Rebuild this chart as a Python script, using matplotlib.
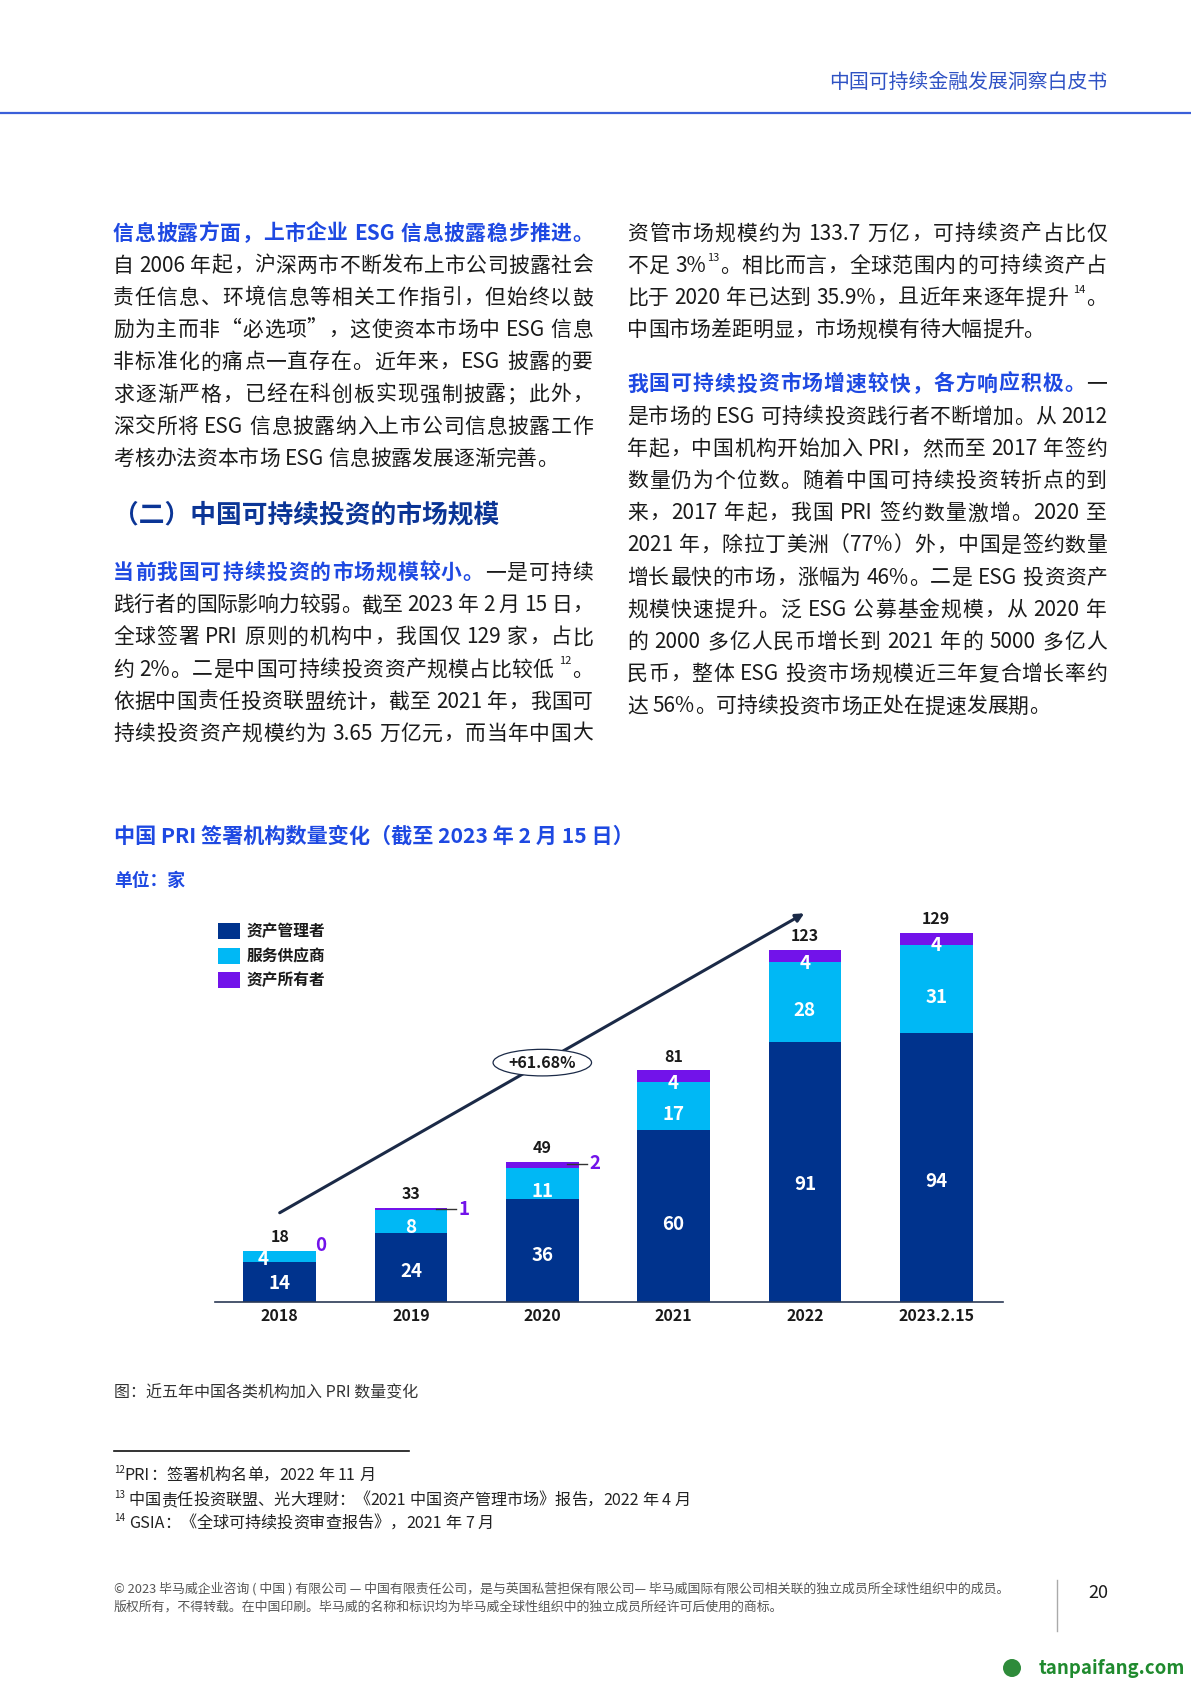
import re
import matplotlib
matplotlib.use("Agg")
import matplotlib.pyplot as plt
from matplotlib.patches import Ellipse, Rectangle
import numpy as np

plt.rcParams["font.family"] = ["Noto Sans CJK SC", "DejaVu Sans"]

# ---- chart data -------------------------------------------------------
years = ["2018", "2019", "2020", "2021", "2022", "2023.2.15"]
asset_managers = [14, 24, 36, 60, 91, 94]
service_providers = [4, 8, 11, 17, 28, 31]
asset_owners = [0, 1, 2, 4, 4, 4]
totals = [18, 33, 49, 81, 123, 129]
series_names = ["资产管理者", "服务供应商", "资产所有者"]
growth_label = "+61.68%"

NAVY = "#00338D"
CYAN = "#00B8F5"
PURPLE = "#7213EA"
COBALT = "#1E49E2"
INK = "#1a1a1a"
ARROW = "#1b2a47"

W, H = 1191, 1684
fig = plt.figure(figsize=(W / 100, H / 100), dpi=100)
bg = fig.add_axes([0, 0, 1, 1])
bg.set_xlim(0, W)
bg.set_ylim(H, 0)
bg.axis("off")
R = fig.canvas.get_renderer()

STY = {
    "n": dict(size=15, color=INK, weight="normal", dy=0),
    "b": dict(size=15, color=COBALT, weight="bold", dy=0),
    "s": dict(size=8, color=INK, weight="normal", dy=-11),
    "f": dict(size=11.6, color="#222222", weight="normal", dy=0),
    "fs": dict(size=7, color="#222222", weight="normal", dy=-7),
}

_adv = {}


def adv(tok, size, weight):
    """advance width of a token in px (ink width of 国X国 minus 国国)"""
    key = (tok, size, weight)
    if key not in _adv:
        def w(s):
            t = bg.text(0, 0, s, fontsize=size, weight=weight)
            ww = t.get_window_extent(R).width
            t.remove()
            return ww
        _adv[key] = w("国" + tok + "国") - w("国国")
    return _adv[key]


def draw_line(x0, yc, runs, width=None, base=7.9):
    toks = []
    for s, k in runs:
        for tok in re.findall(r"[A-Za-z0-9.%]+|.", s):
            toks.append((tok, k))
    advs = [adv(t, STY[k]["size"], STY[k]["weight"]) for t, k in toks]
    gap = 0
    if width and len(toks) > 1:
        gap = (width - sum(advs)) / (len(toks) - 1)
    x = x0
    for (tok, k), a in zip(toks, advs):
        st = STY[k]
        if tok != " ":
            bg.text(x, yc + base + st["dy"], tok, fontsize=st["size"],
                    color=st["color"], weight=st["weight"],
                    ha="left", va="baseline")
        x += a + gap


# ---- header -------------------------------------------------------------
bg.text(1107, 82, "中国可持续金融发展洞察白皮书", fontsize=14.3, color="#2f52c4",
        ha="right", va="center")
bg.plot([0, W], [113, 113], color="#3a5fd9", lw=1.6)

# ---- body text ----------------------------------------------------------
COLW = 480
LX, RX = 113, 627
LH = 32.2

left1 = [
    [("信息披露方面，上市企业 ESG 信息披露稳步推进。", "b")],
    [("自 2006 年起，沪深两市不断发布上市公司披露社会", "n")],
    [("责任信息、环境信息等相关工作指引，但始终以鼓", "n")],
    [("励为主而非“必选项”，这使资本市场中 ESG 信息", "n")],
    [("非标准化的痛点一直存在。近年来，ESG 披露的要", "n")],
    [("求逐渐严格，已经在科创板实现强制披露；此外，", "n")],
    [("深交所将 ESG 信息披露纳入上市公司信息披露工作", "n")],
    [("考核办法资本市场 ESG 信息披露发展逐渐完善。", "n")],
]
left2 = [
    [("当前我国可持续投资的市场规模较小。", "b"), ("一是可持续", "n")],
    [("践行者的国际影响力较弱。截至 2023 年 2 月 15 日，", "n")],
    [("全球签署 PRI 原则的机构中，我国仅 129 家，占比", "n")],
    [("约 2%。二是中国可持续投资资产规模占比较低 ", "n"), ("12", "s"), ("。", "n")],
    [("依据中国责任投资联盟统计，截至 2021 年，我国可", "n")],
    [("持续投资资产规模约为 3.65 万亿元，而当年中国大", "n")],
]
right1 = [
    [("资管市场规模约为 133.7 万亿，可持续资产占比仅", "n")],
    [("不足 3%", "n"), ("13", "s"), ("。相比而言，全球范围内的可持续资产占", "n")],
    [("比于 2020 年已达到 35.9%，且近年来逐年提升 ", "n"), ("14", "s"), ("。", "n")],
    [("中国市场差距明显，市场规模有待大幅提升。", "n")],
]
right2 = [
    [("我国可持续投资市场增速较快，各方响应积极。", "b"), ("一", "n")],
    [("是市场的 ESG 可持续投资践行者不断增加。从 2012", "n")],
    [("年起，中国机构开始加入 PRI，然而至 2017 年签约", "n")],
    [("数量仍为个位数。随着中国可持续投资转折点的到", "n")],
    [("来，2017 年起，我国 PRI 签约数量激增。2020 至", "n")],
    [("2021 年，除拉丁美洲（77%）外，中国是签约数量", "n")],
    [("增长最快的市场，涨幅为 46%。二是 ESG 投资资产", "n")],
    [("规模快速提升。泛 ESG 公募基金规模，从 2020 年", "n")],
    [("的 2000 多亿人民币增长到 2021 年的 5000 多亿人", "n")],
    [("民币，整体 ESG 投资市场规模近三年复合增长率约", "n")],
    [("达 56%。可持续投资市场正处在提速发展期。", "n")],
]


def paragraph(x, y0, lines, justify_last=False):
    for i, runs in enumerate(lines):
        last = i == len(lines) - 1
        draw_line(x, y0 + i * LH, runs,
                  width=COLW if (not last or justify_last) else None)


paragraph(LX, 231.6, left1)
bg.text(LX, 512.9 + 9.8, "（二）中国可持续投资的市场规模", fontsize=18.5,
        weight="bold", color="#0b3596", ha="left", va="baseline")
paragraph(LX, 571, left2, justify_last=True)
paragraph(RX, 231.6, right1)
paragraph(RX, 382.5, right2)

# ---- chart title --------------------------------------------------------
bg.text(114, 836, "中国 PRI 签署机构数量变化（截至 2023 年 2 月 15 日）",
        fontsize=15.2, weight="bold", color=COBALT, ha="left", va="center")
bg.text(114, 881, "单位：家", fontsize=12.8, weight="bold", color=COBALT,
        ha="left", va="center")

# legend
for name, col, yc in zip(series_names, [NAVY, CYAN, PURPLE], [931.3, 956, 980.3]):
    bg.add_patch(Rectangle((218, yc - 8), 21.7, 16, color=col, lw=0))
    bg.text(246.7, yc, name, fontsize=11.3, weight="bold", color=INK,
            ha="left", va="center")

# ---- bar chart ----------------------------------------------------------
x0_px, unit_x, axis_y, unit_y = 279.7, 131.3, 1302, 2.86
xl, xr, ytop = -0.49, 5.51, 150
ax = fig.add_axes([(x0_px + xl * unit_x) / W, 1 - axis_y / H,
                   (xr - xl) * unit_x / W, ytop * unit_y / H])
ax.set_facecolor("none")
x = np.arange(len(years))
am = np.array(asset_managers)
sp = np.array(service_providers)
ao = np.array(asset_owners)
bw = 0.554
ax.bar(x, am, bw, color=NAVY, zorder=2)
ax.bar(x, sp, bw, bottom=am, color=CYAN, zorder=2)
ax.bar(x, ao, bw, bottom=am + sp, color=PURPLE, zorder=2)
ax.set_xlim(xl, xr)
ax.set_ylim(0, ytop)
for s in ["top", "left", "right"]:
    ax.spines[s].set_visible(False)
ax.spines["bottom"].set_color("#2b3a55")
ax.spines["bottom"].set_linewidth(1.2)
ax.spines["bottom"].set_zorder(3)
ax.set_yticks([])
ax.set_xticks(x, years)
ax.tick_params(axis="x", length=0, pad=4)
for lab in ax.get_xticklabels():
    lab.set_fontsize(11.5)
    lab.set_fontweight("bold")
    lab.set_color(INK)

lbl = dict(ha="center", va="center", color="white", fontsize=13.5, weight="bold", zorder=4)
for i in range(len(years)):
    ax.text(i, 0.45 * am[i], str(am[i]), **lbl)
    sy = max(am[i] + sp[i] / 2 - 3, am[i] + sp[i] / 4)
    dx = -0.13 if ao[i] == 0 else 0
    ax.text(i + dx, sy, str(sp[i]), **lbl)
    top = totals[i]
    if ao[i] >= 3:
        ax.text(i, am[i] + sp[i] - 0.5, str(ao[i]), **lbl)
    elif ao[i] == 0:
        ax.text(i + 0.31, top + 1.6, str(ao[i]), ha="center", va="center",
                color=PURPLE, fontsize=13.5, weight="bold")
    else:
        ax.plot([i + 0.19, i + 0.34], [top - 0.6, top - 0.6], color="#333333",
                lw=1, zorder=3)
        ax.text(i + 0.4, top - 0.6, str(ao[i]), ha="center", va="center",
                color=PURPLE, fontsize=13.5, weight="bold")
    ax.text(i, top + 4.8, str(top), ha="center", va="center", color=INK,
            fontsize=11.5, weight="bold")

# growth arrow 2018 -> 2022
ax.annotate("", xy=(3.995, 135.9), xytext=(0, 31.2),
            arrowprops=dict(arrowstyle="-|>", color=ARROW, lw=2.2,
                            mutation_scale=12, shrinkA=0, shrinkB=0),
            zorder=3)
ax.add_patch(Ellipse((2.0, 83.7), 0.75, 9.3, fc="white", ec=ARROW, lw=0.9, zorder=5))
ax.text(2.0, 83.7, growth_label, ha="center", va="center", fontsize=11.5,
        weight="bold", color=INK, zorder=6)

# ---- caption & footnotes --------------------------------------------------
bg.text(114, 1393, "图：近五年中国各类机构加入 PRI 数量变化", fontsize=11.5,
        color="#333333", ha="left", va="center")
bg.plot([114, 409], [1451, 1451], color="#111111", lw=1.2)
draw_line(114, 1474, [("12", "fs"), ("PRI：签署机构名单，2022 年 11 月", "f")], base=6.1)
draw_line(114, 1499, [("13", "fs"), (" 中国责任投资联盟、光大理财：《2021 中国资产管理市场》报告，2022 年 4 月", "f")], base=6.1)
draw_line(114, 1522, [("14", "fs"), (" GSIA：《全球可持续投资审查报告》，2021 年 7 月", "f")], base=6.1)

# ---- footer ---------------------------------------------------------------
bg.text(114, 1589, "© 2023 毕马威企业咨询 ( 中国 ) 有限公司 — 中国有限责任公司，是与英国私营担保有限公司— 毕马威国际有限公司相关联的独立成员所全球性组织中的成员。",
        fontsize=9.3, color="#555555", ha="left", va="center")
bg.text(114, 1607.5, "版权所有，不得转载。在中国印刷。毕马威的名称和标识均为毕马威全球性组织中的独立成员所经许可后使用的商标。",
        fontsize=9.3, color="#555555", ha="left", va="center")
bg.plot([1057, 1057], [1580, 1631], color="#aaaaaa", lw=1)
bg.text(1098, 1593, "20", fontsize=13, color=INK, ha="center", va="center")

bg.add_patch(plt.Circle((1012, 1668), 9, color="#2e8b3a", lw=0))
bg.text(1185, 1668, "tanpaifang.com", fontsize=13.4, weight="bold", style="italic",
        color="#1f8a2e", ha="right", va="center")

fig.savefig("out.png", dpi=100)
